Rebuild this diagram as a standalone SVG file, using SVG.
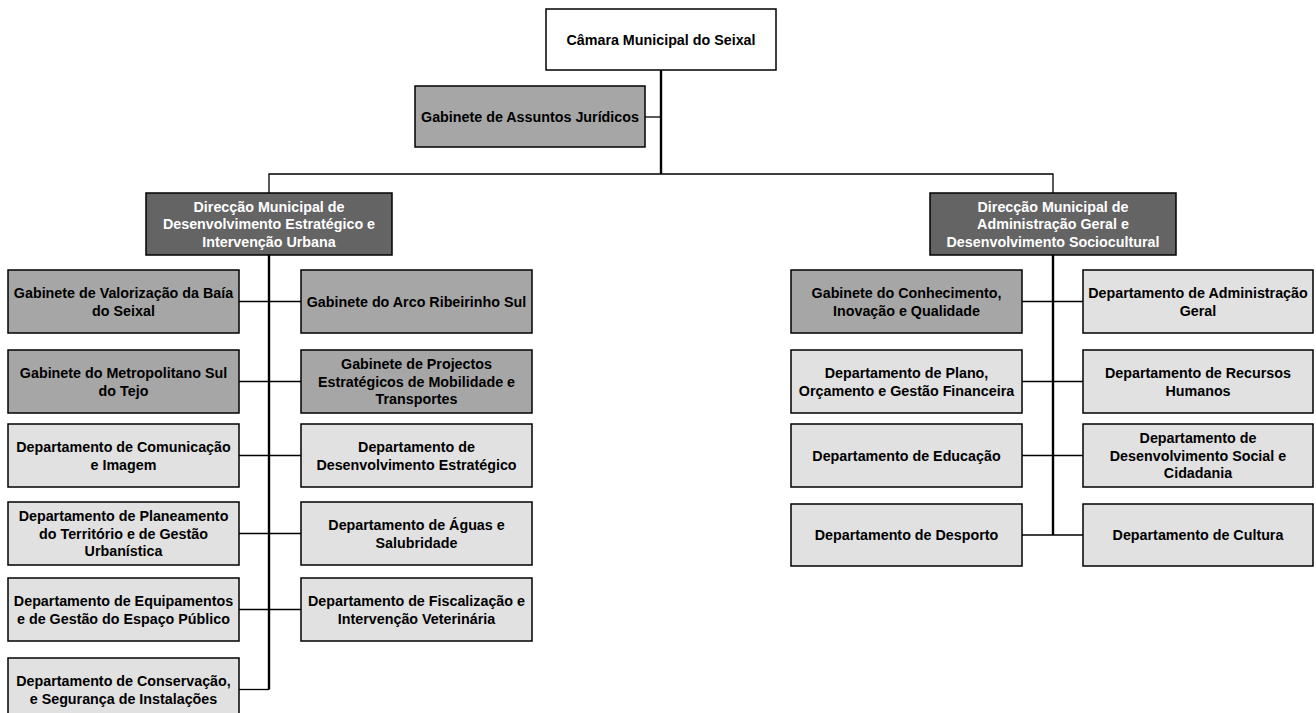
<svg xmlns="http://www.w3.org/2000/svg" width="1316" height="713" viewBox="0 0 1316 713">
<style>
.box{stroke:#000;stroke-width:1.5}
.top{fill:#fff}
.gab{fill:#a6a6a6}
.dir{fill:#646464}
.dep{fill:#e1e1e1}
text{font-family:"Liberation Sans",Arial,sans-serif;font-weight:bold;font-size:14.3px;text-anchor:middle;fill:#000}
.w{fill:#fff}
.thin{stroke:#000;stroke-width:1.3;fill:none}
.thick{stroke:#000;stroke-width:2.4;fill:none}
</style>
<g id="connectors">
<line class="thick" x1="661" y1="70" x2="661" y2="174"/>
<line class="thin" x1="645" y1="117" x2="661" y2="117"/>
<polyline class="thin" points="269,193 269,174 1053,174 1053,193"/>
<line class="thick" x1="269" y1="255" x2="269" y2="689.5"/>
<line class="thin" x1="239" y1="301.5" x2="301" y2="301.5"/>
<line class="thin" x1="239" y1="381.5" x2="301" y2="381.5"/>
<line class="thin" x1="239" y1="455.5" x2="301" y2="455.5"/>
<line class="thin" x1="239" y1="533.5" x2="301" y2="533.5"/>
<line class="thin" x1="239" y1="609.5" x2="301" y2="609.5"/>
<line class="thin" x1="239" y1="689.5" x2="269" y2="689.5"/>
<line class="thick" x1="1053" y1="255" x2="1053" y2="535"/>
<line class="thin" x1="1022" y1="301.5" x2="1083" y2="301.5"/>
<line class="thin" x1="1022" y1="381.5" x2="1083" y2="381.5"/>
<line class="thin" x1="1022" y1="455.5" x2="1083" y2="455.5"/>
<line class="thin" x1="1022" y1="535" x2="1083" y2="535"/>
</g>
<g id="camara"><rect class="box top" x="546" y="9" width="230" height="61"/><text x="661" y="44.5">Câmara Municipal do Seixal</text></g>
<g id="juridicos"><rect class="box gab" x="415" y="86" width="230" height="61"/><text x="530" y="121.5">Gabinete de Assuntos Jurídicos</text></g>
<g id="dm-deiu"><rect class="box dir" x="146" y="193" width="246" height="62"/><text class="w" x="269"><tspan x="269" y="211.5">Direcção Municipal de</tspan><tspan x="269" y="229">Desenvolvimento Estratégico e</tspan><tspan x="269" y="246.5">Intervenção Urbana</tspan></text></g>
<g id="dm-agds"><rect class="box dir" x="930" y="193" width="246" height="62"/><text class="w" x="1053"><tspan x="1053" y="211.5">Direcção Municipal de</tspan><tspan x="1053" y="229">Administração Geral e</tspan><tspan x="1053" y="246.5">Desenvolvimento Sociocultural</tspan></text></g>
<g id="l1a"><rect class="box gab" x="8" y="270" width="231" height="63"/><text x="123.5"><tspan x="123.5" y="298">Gabinete de Valorização da Baía</tspan><tspan x="123.5" y="315.5">do Seixal</tspan></text></g>
<g id="l1b"><rect class="box gab" x="301" y="270" width="231" height="63"/><text x="416.5" y="306.5">Gabinete do Arco Ribeirinho Sul</text></g>
<g id="l2a"><rect class="box gab" x="8" y="350" width="231" height="63"/><text x="123.5"><tspan x="123.5" y="378">Gabinete do Metropolitano Sul</tspan><tspan x="123.5" y="395.5">do Tejo</tspan></text></g>
<g id="l2b"><rect class="box gab" x="301" y="350" width="231" height="63"/><text x="416.5"><tspan x="416.5" y="369">Gabinete de Projectos</tspan><tspan x="416.5" y="386.5">Estratégicos de Mobilidade e</tspan><tspan x="416.5" y="404">Transportes</tspan></text></g>
<g id="l3a"><rect class="box dep" x="8" y="424" width="231" height="63"/><text x="123.5"><tspan x="123.5" y="452">Departamento de Comunicação</tspan><tspan x="123.5" y="469.5">e Imagem</tspan></text></g>
<g id="l3b"><rect class="box dep" x="301" y="424" width="231" height="63"/><text x="416.5"><tspan x="416.5" y="452">Departamento de</tspan><tspan x="416.5" y="469.5">Desenvolvimento Estratégico</tspan></text></g>
<g id="l4a"><rect class="box dep" x="8" y="502" width="231" height="63"/><text x="123.5"><tspan x="123.5" y="521">Departamento de Planeamento</tspan><tspan x="123.5" y="538.5">do Território e de Gestão</tspan><tspan x="123.5" y="556">Urbanística</tspan></text></g>
<g id="l4b"><rect class="box dep" x="301" y="502" width="231" height="63"/><text x="416.5"><tspan x="416.5" y="530">Departamento de Águas e</tspan><tspan x="416.5" y="547.5">Salubridade</tspan></text></g>
<g id="l5a"><rect class="box dep" x="8" y="578" width="231" height="63"/><text x="123.5"><tspan x="123.5" y="606">Departamento de Equipamentos</tspan><tspan x="123.5" y="623.5">e de Gestão do Espaço Público</tspan></text></g>
<g id="l5b"><rect class="box dep" x="301" y="578" width="231" height="63"/><text x="416.5"><tspan x="416.5" y="606">Departamento de Fiscalização e</tspan><tspan x="416.5" y="623.5">Intervenção Veterinária</tspan></text></g>
<g id="l6a"><rect class="box dep" x="8" y="658" width="231" height="63"/><text x="123.5"><tspan x="123.5" y="686">Departamento de Conservação,</tspan><tspan x="123.5" y="703.5">e Segurança de Instalações</tspan></text></g>
<g id="r1a"><rect class="box gab" x="791" y="270" width="231" height="63"/><text x="906.5"><tspan x="906.5" y="298">Gabinete do Conhecimento,</tspan><tspan x="906.5" y="315.5">Inovação e Qualidade</tspan></text></g>
<g id="r1b"><rect class="box dep" x="1083" y="270" width="230" height="63"/><text x="1198"><tspan x="1198" y="298">Departamento de Administração</tspan><tspan x="1198" y="315.5">Geral</tspan></text></g>
<g id="r2a"><rect class="box dep" x="791" y="350" width="231" height="63"/><text x="906.5"><tspan x="906.5" y="378">Departamento de Plano,</tspan><tspan x="906.5" y="395.5">Orçamento e Gestão Financeira</tspan></text></g>
<g id="r2b"><rect class="box dep" x="1083" y="350" width="230" height="63"/><text x="1198"><tspan x="1198" y="378">Departamento de Recursos</tspan><tspan x="1198" y="395.5">Humanos</tspan></text></g>
<g id="r3a"><rect class="box dep" x="791" y="424" width="231" height="63"/><text x="906.5" y="460.5">Departamento de Educação</text></g>
<g id="r3b"><rect class="box dep" x="1083" y="424" width="230" height="63"/><text x="1198"><tspan x="1198" y="443">Departamento de</tspan><tspan x="1198" y="460.5">Desenvolvimento Social e</tspan><tspan x="1198" y="478">Cidadania</tspan></text></g>
<g id="r4a"><rect class="box dep" x="791" y="504" width="231" height="62"/><text x="906.5" y="540">Departamento de Desporto</text></g>
<g id="r4b"><rect class="box dep" x="1083" y="504" width="230" height="62"/><text x="1198" y="540">Departamento de Cultura</text></g>
</svg>
